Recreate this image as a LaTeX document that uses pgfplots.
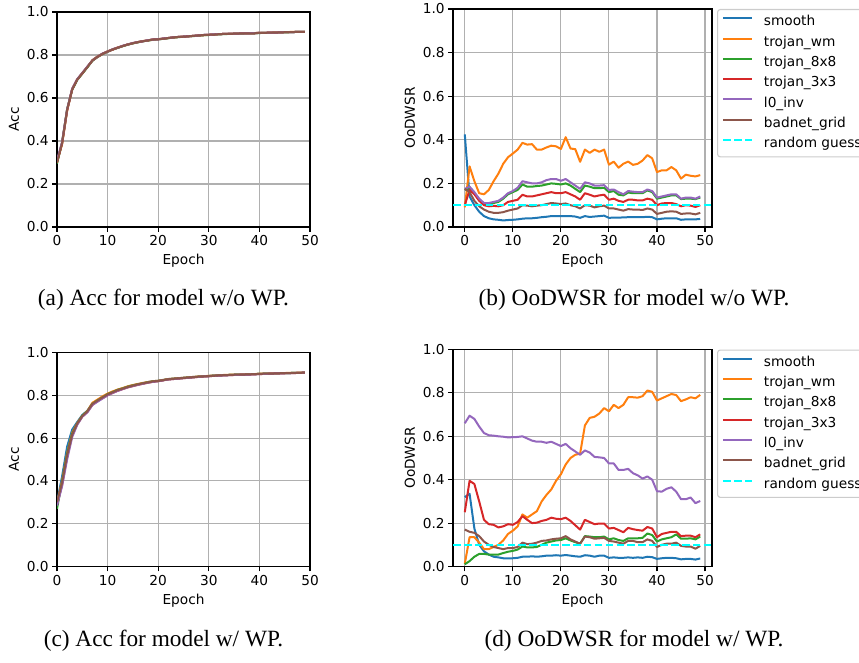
\documentclass[border=0pt]{standalone}
\usepackage{fontspec}
\setmainfont{DejaVu Sans}
\newfontfamily\capfont{Liberation Serif}
\usepackage{pgfplots}
\usepackage{pgfplotstable}
\pgfplotsset{compat=1.18}

\definecolor{mblue}{HTML}{1F77B4}
\definecolor{morange}{HTML}{FF7F0E}
\definecolor{mgreen}{HTML}{2CA02C}
\definecolor{mred}{HTML}{D62728}
\definecolor{mpurple}{HTML}{9467BD}
\definecolor{mbrown}{HTML}{8C564B}
\definecolor{mcyan}{HTML}{00FFFF}
\definecolor{gridgray}{HTML}{B0B0B0}
\definecolor{leggray}{HTML}{CCCCCC}

\newcommand\fs{\fontsize{13.7}{16}\selectfont}
\newcommand\capfs{\capfont\fontsize{23.3}{28}\selectfont}

% accuracy, model w/o WP
\pgfplotstableread{
e s wm t8 t3 inv grid
0 0.300 0.305 0.295 0.300 0.310 0.302
1 0.390 0.385 0.392 0.388 0.395 0.390
2 0.545 0.540 0.548 0.543 0.547 0.545
3 0.640 0.642 0.638 0.640 0.644 0.641
4 0.685 0.687 0.684 0.686 0.688 0.686
5 0.715 0.716 0.713 0.714 0.717 0.715
6 0.745 0.744 0.742 0.745 0.746 0.744
7 0.775 0.776 0.773 0.774 0.775 0.775
8 0.792 0.793 0.790 0.791 0.792 0.792
9 0.806 0.806 0.804 0.805 0.807 0.806
10 0.816 0.817 0.815 0.816 0.816 0.816
11 0.826 0.826 0.825 0.825 0.827 0.826
12 0.834 0.835 0.833 0.834 0.834 0.834
13 0.842 0.842 0.841 0.842 0.843 0.842
14 0.849 0.849 0.848 0.849 0.849 0.849
15 0.855 0.855 0.854 0.855 0.856 0.855
16 0.860 0.860 0.859 0.860 0.860 0.860
17 0.864 0.865 0.864 0.864 0.864 0.864
18 0.868 0.868 0.867 0.868 0.869 0.868
19 0.872 0.872 0.871 0.872 0.872 0.872
20 0.873 0.874 0.873 0.873 0.873 0.873
21 0.876 0.876 0.875 0.876 0.877 0.876
22 0.879 0.879 0.878 0.879 0.879 0.879
23 0.882 0.881 0.881 0.882 0.882 0.882
24 0.884 0.884 0.883 0.884 0.884 0.884
25 0.885 0.886 0.885 0.885 0.886 0.885
26 0.887 0.887 0.887 0.887 0.887 0.887
27 0.889 0.889 0.888 0.889 0.889 0.889
28 0.891 0.890 0.890 0.891 0.891 0.891
29 0.893 0.892 0.892 0.893 0.893 0.893
30 0.894 0.894 0.893 0.894 0.894 0.894
31 0.895 0.895 0.895 0.895 0.896 0.895
32 0.897 0.897 0.896 0.897 0.897 0.897
33 0.898 0.898 0.897 0.898 0.898 0.898
34 0.898 0.899 0.898 0.898 0.899 0.898
35 0.899 0.899 0.899 0.899 0.899 0.899
36 0.900 0.900 0.899 0.900 0.900 0.900
37 0.900 0.901 0.900 0.900 0.900 0.900
38 0.901 0.901 0.901 0.901 0.901 0.901
39 0.901 0.902 0.901 0.901 0.902 0.901
40 0.903 0.903 0.902 0.903 0.903 0.903
41 0.903 0.903 0.903 0.903 0.903 0.903
42 0.904 0.904 0.903 0.904 0.904 0.904
43 0.904 0.905 0.904 0.904 0.904 0.904
44 0.905 0.905 0.905 0.905 0.905 0.905
45 0.906 0.906 0.905 0.906 0.906 0.906
46 0.906 0.907 0.906 0.906 0.906 0.906
47 0.907 0.907 0.907 0.907 0.907 0.907
48 0.907 0.908 0.907 0.907 0.908 0.907
49 0.908 0.908 0.908 0.908 0.908 0.908
}\accA

% OoDWSR, model w/o WP
\pgfplotstableread{
e s wm t8 t3 inv grid
0 0.425 0.090 0.170 0.100 0.175 0.175
1 0.140 0.278 0.180 0.170 0.185 0.160
2 0.100 0.210 0.155 0.150 0.160 0.120
3 0.070 0.155 0.125 0.120 0.130 0.095
4 0.050 0.150 0.105 0.100 0.110 0.080
5 0.040 0.170 0.105 0.095 0.110 0.070
6 0.035 0.210 0.110 0.097 0.115 0.065
7 0.033 0.245 0.115 0.095 0.120 0.065
8 0.030 0.290 0.130 0.100 0.135 0.068
9 0.032 0.320 0.150 0.115 0.155 0.075
10 0.033 0.337 0.160 0.120 0.165 0.080
11 0.035 0.355 0.170 0.125 0.180 0.085
12 0.038 0.386 0.195 0.148 0.210 0.100
13 0.040 0.378 0.185 0.140 0.205 0.098
14 0.040 0.380 0.185 0.140 0.200 0.095
15 0.042 0.355 0.188 0.145 0.200 0.098
16 0.045 0.355 0.190 0.150 0.205 0.100
17 0.047 0.365 0.195 0.155 0.215 0.105
18 0.050 0.373 0.200 0.160 0.220 0.110
19 0.050 0.370 0.198 0.155 0.220 0.108
20 0.050 0.358 0.195 0.155 0.212 0.105
21 0.050 0.412 0.200 0.160 0.220 0.108
22 0.050 0.360 0.190 0.150 0.205 0.100
23 0.048 0.357 0.175 0.140 0.190 0.095
24 0.042 0.299 0.160 0.125 0.175 0.085
25 0.050 0.355 0.190 0.155 0.205 0.100
26 0.046 0.340 0.185 0.148 0.200 0.098
27 0.048 0.355 0.178 0.140 0.190 0.090
28 0.050 0.345 0.178 0.145 0.190 0.095
29 0.052 0.355 0.180 0.148 0.192 0.098
30 0.042 0.286 0.160 0.125 0.170 0.085
31 0.043 0.300 0.165 0.130 0.172 0.085
32 0.043 0.272 0.148 0.120 0.160 0.080
33 0.044 0.290 0.145 0.115 0.150 0.075
34 0.045 0.300 0.158 0.125 0.165 0.082
35 0.045 0.285 0.155 0.125 0.162 0.080
36 0.045 0.290 0.155 0.122 0.160 0.080
37 0.045 0.305 0.155 0.122 0.160 0.078
38 0.047 0.330 0.168 0.130 0.172 0.085
39 0.045 0.315 0.160 0.125 0.165 0.080
40 0.035 0.252 0.130 0.100 0.135 0.060
41 0.038 0.260 0.135 0.108 0.140 0.065
42 0.040 0.260 0.140 0.110 0.145 0.070
43 0.040 0.275 0.145 0.110 0.150 0.072
44 0.040 0.260 0.145 0.105 0.150 0.070
45 0.033 0.222 0.128 0.095 0.130 0.060
46 0.035 0.240 0.130 0.100 0.135 0.062
47 0.035 0.235 0.130 0.098 0.135 0.062
48 0.035 0.232 0.128 0.092 0.130 0.058
49 0.037 0.238 0.135 0.100 0.140 0.065
}\oodB

% accuracy, model w/ WP
\pgfplotstableread{
e s wm t8 t3 inv grid
0 0.300 0.295 0.270 0.290 0.285 0.300
1 0.420 0.400 0.395 0.380 0.375 0.390
2 0.560 0.530 0.525 0.510 0.500 0.520
3 0.640 0.625 0.620 0.612 0.605 0.615
4 0.675 0.670 0.668 0.665 0.662 0.668
5 0.708 0.705 0.705 0.700 0.700 0.703
6 0.728 0.727 0.725 0.722 0.720 0.725
7 0.762 0.765 0.760 0.755 0.755 0.760
8 0.777 0.780 0.776 0.772 0.770 0.775
9 0.792 0.795 0.790 0.786 0.785 0.790
10 0.806 0.808 0.805 0.800 0.800 0.804
11 0.816 0.818 0.815 0.811 0.811 0.814
12 0.826 0.827 0.825 0.821 0.821 0.824
13 0.833 0.834 0.832 0.829 0.829 0.831
14 0.841 0.842 0.840 0.837 0.837 0.839
15 0.847 0.848 0.846 0.843 0.843 0.845
16 0.852 0.853 0.851 0.849 0.849 0.851
17 0.857 0.858 0.856 0.854 0.854 0.856
18 0.862 0.862 0.861 0.859 0.859 0.860
19 0.866 0.866 0.865 0.863 0.863 0.865
20 0.868 0.868 0.867 0.866 0.866 0.867
21 0.872 0.872 0.871 0.870 0.870 0.871
22 0.876 0.876 0.875 0.874 0.874 0.875
23 0.878 0.878 0.877 0.876 0.876 0.877
24 0.880 0.880 0.879 0.878 0.878 0.879
25 0.882 0.882 0.881 0.880 0.880 0.881
26 0.884 0.884 0.883 0.882 0.882 0.883
27 0.886 0.886 0.885 0.884 0.884 0.885
28 0.887 0.888 0.887 0.886 0.886 0.887
29 0.889 0.889 0.889 0.888 0.888 0.888
30 0.890 0.891 0.890 0.889 0.889 0.890
31 0.892 0.892 0.892 0.891 0.891 0.891
32 0.893 0.894 0.893 0.892 0.892 0.893
33 0.894 0.895 0.894 0.893 0.893 0.894
34 0.895 0.896 0.895 0.894 0.894 0.895
35 0.896 0.897 0.896 0.895 0.895 0.896
36 0.897 0.897 0.897 0.896 0.896 0.897
37 0.897 0.898 0.897 0.897 0.897 0.897
38 0.898 0.899 0.898 0.897 0.897 0.898
39 0.899 0.899 0.899 0.898 0.898 0.899
40 0.900 0.901 0.900 0.899 0.899 0.900
41 0.901 0.901 0.901 0.900 0.900 0.901
42 0.901 0.902 0.901 0.901 0.901 0.901
43 0.902 0.903 0.902 0.902 0.902 0.902
44 0.903 0.903 0.903 0.902 0.902 0.903
45 0.904 0.904 0.904 0.903 0.903 0.904
46 0.904 0.905 0.904 0.904 0.904 0.904
47 0.905 0.905 0.905 0.904 0.904 0.905
48 0.905 0.906 0.905 0.905 0.905 0.905
49 0.906 0.906 0.906 0.906 0.906 0.906
}\accC

% OoDWSR, model w/ WP
\pgfplotstableread{
e s wm t8 t3 inv grid
0 0.320 0.012 0.010 0.250 0.660 0.170
1 0.335 0.135 0.025 0.395 0.695 0.160
2 0.175 0.135 0.045 0.380 0.680 0.155
3 0.100 0.110 0.058 0.300 0.645 0.140
4 0.070 0.080 0.058 0.215 0.615 0.115
5 0.055 0.080 0.055 0.195 0.605 0.100
6 0.045 0.090 0.055 0.192 0.603 0.090
7 0.042 0.100 0.055 0.180 0.600 0.085
8 0.038 0.120 0.062 0.185 0.598 0.080
9 0.037 0.150 0.068 0.195 0.595 0.085
10 0.038 0.165 0.072 0.192 0.596 0.085
11 0.040 0.185 0.078 0.205 0.597 0.090
12 0.045 0.240 0.092 0.232 0.600 0.110
13 0.045 0.225 0.088 0.215 0.590 0.103
14 0.047 0.240 0.088 0.200 0.580 0.105
15 0.045 0.255 0.090 0.202 0.575 0.110
16 0.047 0.300 0.100 0.210 0.575 0.118
17 0.050 0.330 0.110 0.215 0.570 0.120
18 0.050 0.355 0.115 0.225 0.575 0.125
19 0.052 0.395 0.120 0.220 0.565 0.128
20 0.050 0.425 0.122 0.218 0.555 0.130
21 0.053 0.470 0.130 0.225 0.565 0.140
22 0.050 0.500 0.120 0.210 0.545 0.125
23 0.047 0.515 0.112 0.190 0.530 0.115
24 0.045 0.520 0.105 0.170 0.515 0.105
25 0.052 0.650 0.140 0.215 0.535 0.138
26 0.050 0.685 0.138 0.205 0.525 0.135
27 0.045 0.690 0.135 0.195 0.505 0.128
28 0.050 0.705 0.135 0.198 0.503 0.130
29 0.050 0.730 0.138 0.198 0.500 0.132
30 0.040 0.715 0.125 0.175 0.475 0.118
31 0.042 0.745 0.130 0.178 0.475 0.115
32 0.040 0.730 0.122 0.168 0.445 0.110
33 0.040 0.745 0.118 0.158 0.445 0.105
34 0.042 0.780 0.130 0.178 0.450 0.118
35 0.040 0.780 0.130 0.172 0.430 0.118
36 0.042 0.778 0.130 0.168 0.420 0.112
37 0.040 0.785 0.132 0.165 0.405 0.112
38 0.045 0.811 0.152 0.182 0.415 0.125
39 0.043 0.805 0.145 0.175 0.400 0.118
40 0.035 0.765 0.115 0.135 0.347 0.090
41 0.038 0.775 0.125 0.150 0.345 0.100
42 0.040 0.785 0.130 0.155 0.358 0.105
43 0.040 0.795 0.135 0.160 0.365 0.105
44 0.038 0.790 0.148 0.160 0.345 0.110
45 0.033 0.762 0.128 0.140 0.310 0.095
46 0.035 0.770 0.128 0.142 0.310 0.092
47 0.035 0.780 0.130 0.142 0.318 0.092
48 0.032 0.775 0.125 0.135 0.292 0.082
49 0.037 0.791 0.138 0.148 0.302 0.095
}\oodD

\pgfplotsset{
  mpl/.style={
    scale only axis, anchor=south west,
    axis line style={line width=1.1pt},
    grid=major, major grid style={line width=1.1pt, gridgray},
    tick align=outside, tick pos=left, major tick length=4.8pt,
    every tick/.style={black, line width=1.1pt},
    ymin=0, ymax=1, ytick={0,0.2,0.4,0.6,0.8,1},
    yticklabel style={/pgf/number format/.cd, fixed, fixed zerofill, precision=1},
    xtick={0,10,20,30,40,50},
    /pgf/number format/assume math mode=true,
    tick label style={font=\fs}, label style={font=\fs},
    xlabel=Epoch,
    xlabel style={at={(axis description cs:0.5,0)}, anchor=base, yshift=-38pt},
    % label is rotated, so yshift moves it to the left
    ylabel style={at={(axis description cs:0,0.5)}, anchor=center, yshift=43pt},
    every axis plot/.append style={line width=2pt, line join=round},
  },
  mplleg/.style={
    legend cell align=left,
    legend image code/.code={\draw[##1] (0pt,4pt) -- (29pt,4pt);},
    legend style={at={(1.0193,1)}, anchor=north west, draw=leggray, line width=1.1pt,
      rounded corners=2.7pt, fill=white, font=\fs, inner xsep=4.7pt, inner ysep=6pt,
      row sep=6.8pt, column sep=10.7pt,
      nodes={inner sep=0pt, text height=10.3pt, text depth=3.2pt}},
  },
}

\begin{document}
\begin{tikzpicture}[x=1pt,y=1pt]
\path[use as bounding box] (0,0) rectangle (859,662);
\clip (0,0) rectangle (859,662);

% (a)
\begin{axis}[mpl, at={(57pt,435pt)}, width=253pt, height=215pt, xmin=0, xmax=50, ylabel=Acc]
  \addplot[mblue] table[x=e, y=s] {\accA};
  \addplot[morange] table[x=e, y=wm] {\accA};
  \addplot[mgreen] table[x=e, y=t8] {\accA};
  \addplot[mred] table[x=e, y=t3] {\accA};
  \addplot[mpurple] table[x=e, y=inv] {\accA};
  \addplot[mbrown] table[x=e, y=grid] {\accA};
\end{axis}

% (b)
\begin{axis}[mpl, mplleg, at={(453pt,435pt)}, width=259pt, height=218pt, xmin=-2.45, xmax=51.45, ylabel=OoDWSR]
  \addplot[mblue] table[x=e, y=s] {\oodB};
  \addplot[morange] table[x=e, y=wm] {\oodB};
  \addplot[mgreen] table[x=e, y=t8] {\oodB};
  \addplot[mred] table[x=e, y=t3] {\oodB};
  \addplot[mpurple] table[x=e, y=inv] {\oodB};
  \addplot[mbrown] table[x=e, y=grid] {\oodB};
  \addplot[mcyan, dash pattern=on 7.6pt off 3.3pt] coordinates {(-2.45,0.1) (51.45,0.1)};
  \legend{smooth, trojan\_wm, trojan\_8x8, trojan\_3x3, l0\_inv, badnet\_grid, random guess}
\end{axis}

% (c)
\begin{axis}[mpl, at={(57pt,95.5pt)}, width=253pt, height=214pt, xmin=0, xmax=50, ylabel=Acc]
  \addplot[mblue] table[x=e, y=s] {\accC};
  \addplot[morange] table[x=e, y=wm] {\accC};
  \addplot[mgreen] table[x=e, y=t8] {\accC};
  \addplot[mred] table[x=e, y=t3] {\accC};
  \addplot[mpurple] table[x=e, y=inv] {\accC};
  \addplot[mbrown] table[x=e, y=grid] {\accC};
\end{axis}

% (d)
\begin{axis}[mpl, mplleg, at={(453pt,95.5pt)}, width=259pt, height=217pt, xmin=-2.45, xmax=51.45, ylabel=OoDWSR]
  \addplot[mblue] table[x=e, y=s] {\oodD};
  \addplot[morange] table[x=e, y=wm] {\oodD};
  \addplot[mgreen] table[x=e, y=t8] {\oodD};
  \addplot[mred] table[x=e, y=t3] {\oodD};
  \addplot[mpurple] table[x=e, y=inv] {\oodD};
  \addplot[mbrown] table[x=e, y=grid] {\oodD};
  \addplot[mcyan, dash pattern=on 7.6pt off 3.3pt] coordinates {(-2.45,0.1) (51.45,0.1)};
  \legend{smooth, trojan\_wm, trojan\_8x8, trojan\_3x3, l0\_inv, badnet\_grid, random guess}
\end{axis}

\node[font=\capfs, anchor=base] at (163.5,356) {(a) Acc for model w/o WP.};
\node[font=\capfs, anchor=base] at (634,356) {(b) OoDWSR for model w/o WP.};
\node[font=\capfs, anchor=base] at (163.5,16) {(c) Acc for model w/ WP.};
\node[font=\capfs, anchor=base] at (634,16) {(d) OoDWSR for model w/ WP.};
\end{tikzpicture}
\end{document}
